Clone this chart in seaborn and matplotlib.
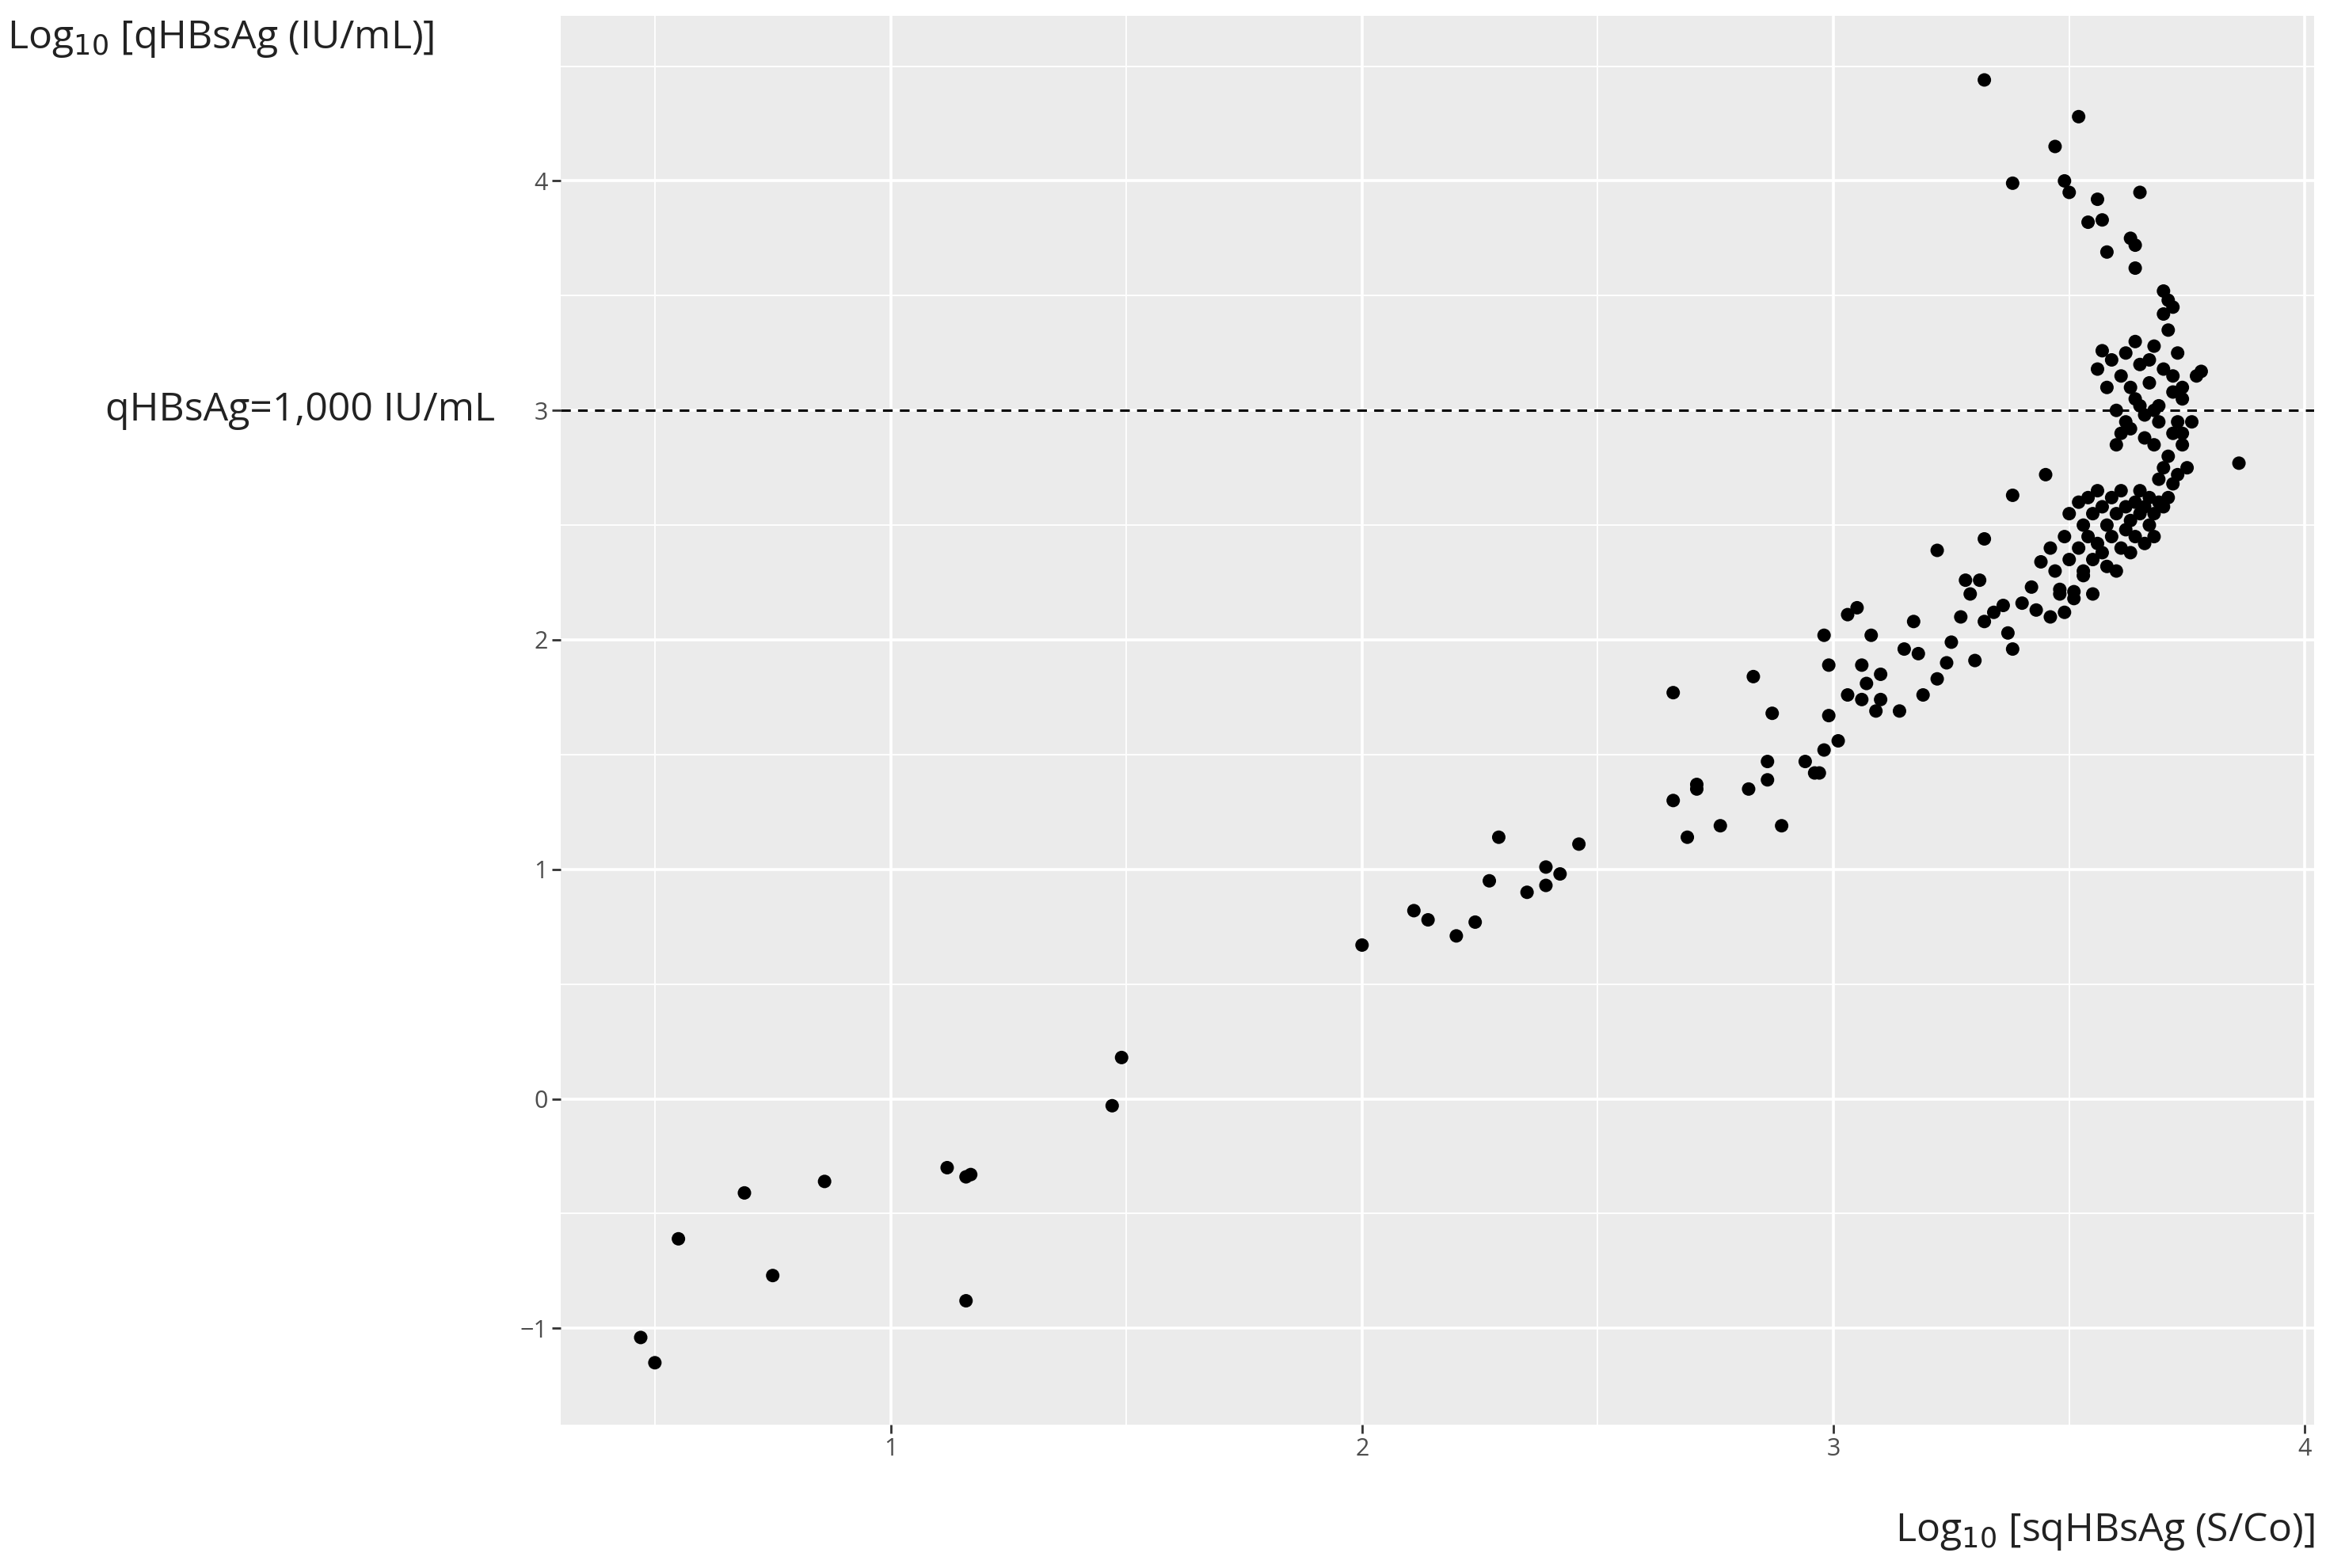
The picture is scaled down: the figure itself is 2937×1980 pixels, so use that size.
import matplotlib
matplotlib.use("Agg")
import matplotlib.pyplot as plt
import seaborn as sns
import pandas as pd
from matplotlib.ticker import MultipleLocator

# =========================
# DATA
# =========================
x_low = [0.47, 0.50, 0.55, 0.69, 0.75, 0.86, 1.12, 1.16, 1.17, 1.16, 1.47, 1.49]
y_low = [-1.04, -1.15, -0.61, -0.41, -0.77, -0.36, -0.30, -0.34, -0.33, -0.88, -0.03, 0.18]

x_mid = [2.00, 2.11, 2.14, 2.20, 2.24, 2.27, 2.29, 2.35, 2.39, 2.39, 2.42, 2.46,
         2.66, 2.66, 2.69, 2.71, 2.71, 2.76, 2.82, 2.83, 2.86, 2.86, 2.87, 2.89,
         2.94, 2.96, 2.97, 2.98, 2.98, 2.99, 2.99, 3.01, 3.03, 3.03, 3.05, 3.06,
         3.06, 3.07, 3.08, 3.09, 3.10, 3.10, 3.14, 3.15, 3.17, 3.18, 3.19, 3.22,
         3.22, 3.24, 3.25, 3.27, 3.28, 3.29, 3.30, 3.31, 3.32, 3.32, 3.34, 3.36,
         3.37, 3.38, 3.38, 3.40, 3.42, 3.43, 3.44, 3.45, 3.46, 3.48]
y_mid = [0.67, 0.82, 0.78, 0.71, 0.77, 0.95, 1.14, 0.90, 1.01, 0.93, 0.98, 1.11,
         1.30, 1.77, 1.14, 1.35, 1.37, 1.19, 1.35, 1.84, 1.39, 1.47, 1.68, 1.19,
         1.47, 1.42, 1.42, 1.52, 2.02, 1.89, 1.67, 1.56, 1.76, 2.11, 2.14, 1.74,
         1.89, 1.81, 2.02, 1.69, 1.85, 1.74, 1.69, 1.96, 2.08, 1.94, 1.76, 2.39,
         1.83, 1.90, 1.99, 2.10, 2.26, 2.20, 1.91, 2.26, 2.08, 2.44, 2.12, 2.15,
         2.03, 2.63, 1.96, 2.16, 2.23, 2.13, 2.34, 2.72, 2.10, 2.20]

x_top = [3.32, 3.38, 3.47, 3.49, 3.50, 3.52, 3.54, 3.56, 3.57, 3.58, 3.63, 3.64,
         3.65, 3.64, 3.86, 3.78]
y_top = [4.44, 3.99, 4.15, 4.00, 3.95, 4.28, 3.82, 3.92, 3.83, 3.69, 3.75, 3.62,
         3.95, 3.72, 2.77, 3.17]

# dense cluster near x = 3.5-3.8
x_dense = [3.46, 3.47, 3.48, 3.49, 3.50, 3.50, 3.51, 3.52, 3.52, 3.53, 3.53, 3.54,
           3.54, 3.55, 3.55, 3.56, 3.56, 3.57, 3.57, 3.58, 3.58, 3.59, 3.59, 3.60,
           3.60, 3.61, 3.61, 3.62, 3.62, 3.63, 3.63, 3.64, 3.64, 3.65, 3.65, 3.66,
           3.66, 3.67, 3.67, 3.68, 3.68, 3.69, 3.69, 3.70, 3.70, 3.71, 3.71, 3.72,
           3.72, 3.73, 3.73, 3.74, 3.74, 3.75, 3.76, 3.77, 3.58, 3.59, 3.60, 3.61,
           3.62, 3.63, 3.64, 3.65, 3.66, 3.67, 3.68, 3.69, 3.70, 3.71, 3.72, 3.73,
           3.60, 3.62, 3.64, 3.66, 3.68, 3.70, 3.72, 3.74, 3.63, 3.67, 3.69, 3.71,
           3.56, 3.57, 3.61, 3.65, 3.68, 3.70, 3.72, 3.74, 3.53, 3.55, 3.49, 3.51]
y_dense = [2.40, 2.30, 2.22, 2.45, 2.55, 2.35, 2.21, 2.60, 2.40, 2.50, 2.30, 2.62,
           2.45, 2.55, 2.35, 2.65, 2.42, 2.58, 2.38, 2.50, 2.32, 2.62, 2.45, 2.55,
           2.30, 2.65, 2.40, 2.58, 2.48, 2.52, 2.38, 2.60, 2.45, 2.55, 2.65, 2.42,
           2.58, 2.50, 2.62, 2.45, 2.55, 2.60, 2.70, 2.58, 2.75, 2.62, 2.80, 2.68,
           2.90, 2.72, 2.95, 2.85, 3.05, 2.75, 2.95, 3.15, 3.10, 3.22, 3.00, 3.15,
           3.25, 2.92, 3.05, 3.20, 2.98, 3.12, 3.28, 3.02, 3.18, 3.35, 3.08, 3.25,
           2.85, 2.95, 3.30, 2.88, 3.00, 3.42, 3.15, 3.10, 3.10, 3.22, 2.95, 3.48,
           3.18, 3.26, 2.90, 3.02, 2.85, 3.52, 3.45, 2.90, 2.28, 2.20, 2.12, 2.18]

df = pd.DataFrame({
    "x": x_low + x_mid + x_top + x_dense,
    "y": y_low + y_mid + y_top + y_dense,
})

# =========================
# PLOT
# =========================
sns.set_theme(style="darkgrid", rc={"axes.facecolor": "#EBEBEB"})
plt.rcParams["font.family"] = ["Open Sans", "DejaVu Sans"]

fig = plt.figure(figsize=(29.37, 19.80), dpi=100)
ax = fig.add_axes([0.241, 0.0914, 0.754, 0.8986])

sns.scatterplot(data=df, x="x", y="y", color="black", s=150, edgecolor="none", ax=ax, zorder=3)
ax.axhline(3, color="black", linestyle=(0, (4, 3)), linewidth=2.2, zorder=2)

ax.set_xlim(0.3, 4.02)
ax.set_ylim(-1.42, 4.72)
ax.xaxis.set_major_locator(MultipleLocator(1))
ax.yaxis.set_major_locator(MultipleLocator(1))
ax.xaxis.set_minor_locator(MultipleLocator(0.5))
ax.yaxis.set_minor_locator(MultipleLocator(0.5))
ax.grid(which="major", color="white", linewidth=2.6)
ax.grid(which="minor", color="white", linewidth=1.3)
for s in ax.spines.values():
    s.set_visible(False)
ax.tick_params(which="major", length=8, width=2, color="#333333",
               labelsize=22, labelcolor="#4D4D4D", bottom=True, left=True)
ax.tick_params(which="minor", length=0)
ax.set_xticks([1, 2, 3, 4])
ax.set_xticklabels(["1", "2", "3", "4"])
ax.set_yticks([-1, 0, 1, 2, 3, 4])
ax.set_yticklabels(["\u22121", "0", "1", "2", "3", "4"])
ax.set_xlabel("")
ax.set_ylabel("")

fig.text(0.003, 0.975, "Log$_{10}$ [qHBsAg (IU/mL)]", fontsize=36, color="#222222", va="center", ha="left")
fig.text(0.995, 0.023, "Log$_{10}$ [sqHBsAg (S/Co)]", fontsize=36, color="#222222", va="center", ha="right")
fig.text(0.213, ax.transData.transform((0, 3))[1] / fig.bbox.height, "qHBsAg=1,000 IU/mL",
         fontsize=36, color="#222222", va="center", ha="right")

plt.savefig("out.png", dpi=100)
print("saved")
